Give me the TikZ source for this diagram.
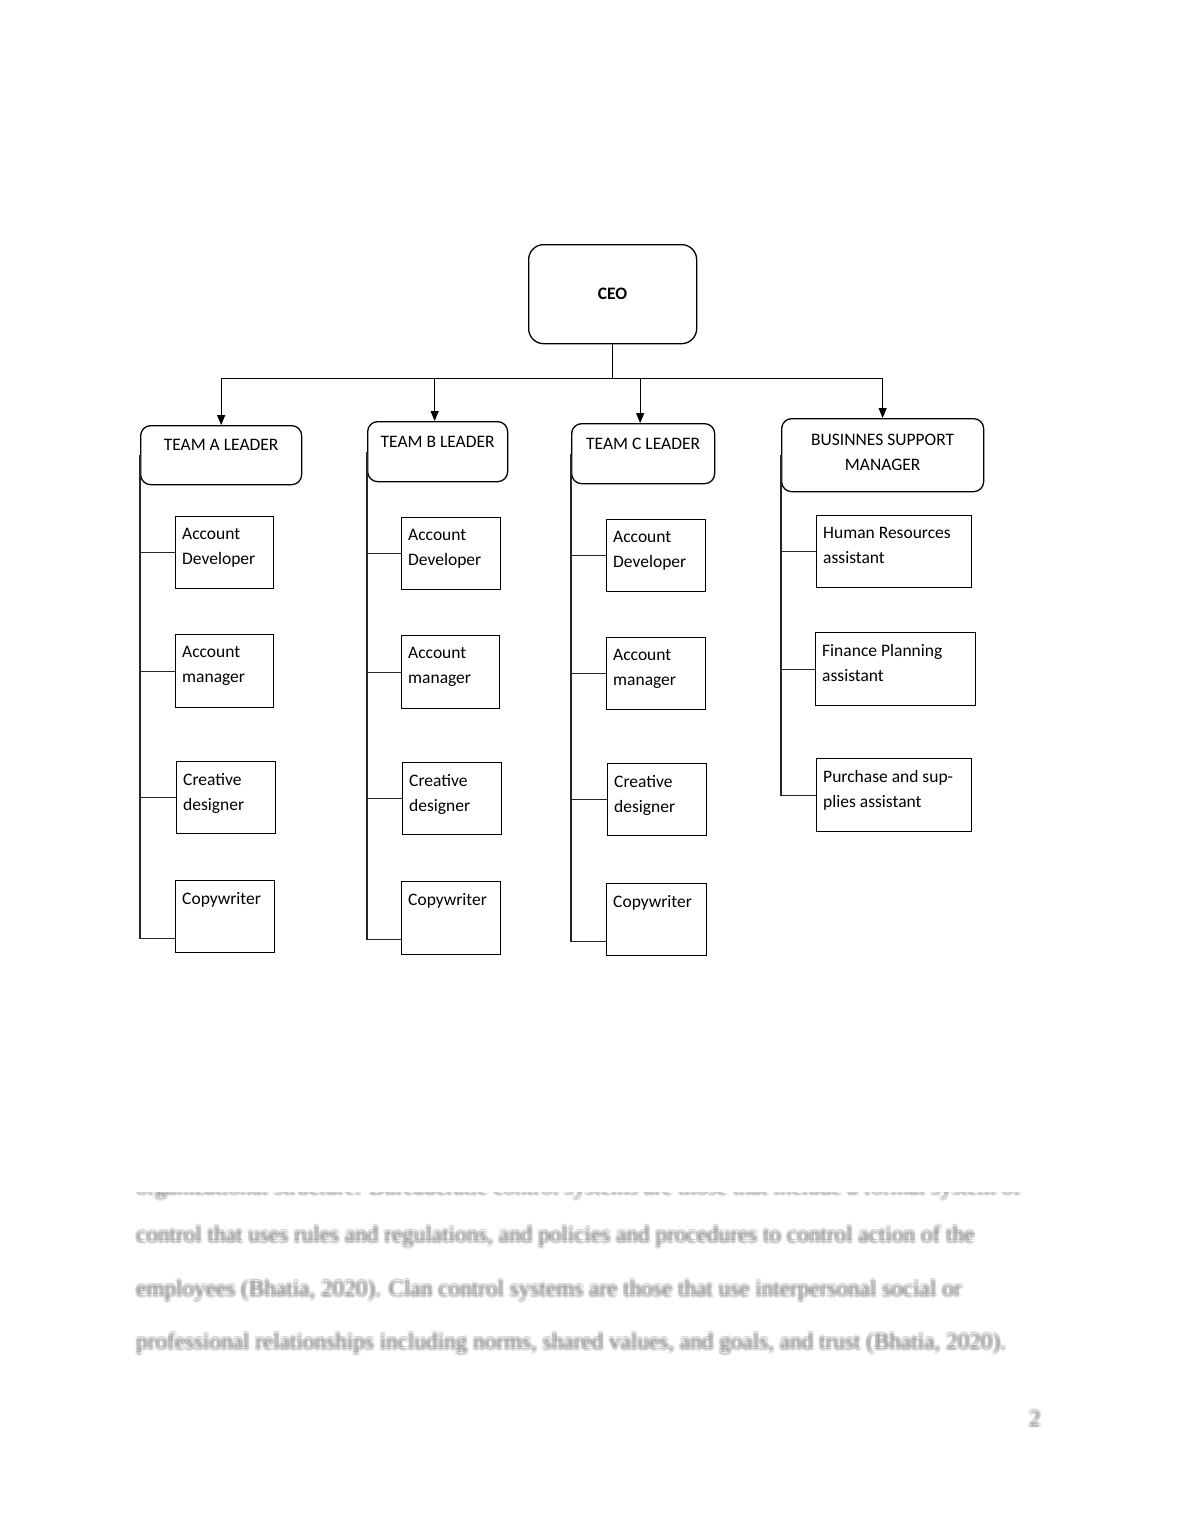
\documentclass[tikz,border=0pt]{standalone}
\usepackage{fontspec}
\setmainfont{Carlito}
\newfontfamily\parafont{Liberation Serif}
\usetikzlibrary{arrows.meta,calc}

\tikzset{
  boxbase/.style={draw, line width=1.3, inner sep=0, anchor=north west, fill=white},
  leadbox/.style={boxbase, rounded corners=10},
  lbl/.style={font=\fontsize{17.5}{24.7}\selectfont, align=left, inner sep=0, anchor=north west},
  conn/.style={line width=1.2, black!85},
  arr/.style={line width=1.2, -{Triangle[length=10,width=8]}},
  para/.style={font=\parafont\fontsize{23.2}{26}\selectfont, inner sep=0, anchor=base west, text=black!80, opacity=0.1}
}

% name, x1, y1, x2, y2, text
\newcommand\rolebox[6]{%
  \node[boxbase, minimum width={#4-#2}, minimum height={#5-#3}] (#1) at (#2,#3) {};
  \node[lbl] (#1t) at ($(#1.north west)+(7,12)$) {#6};
}
% name, x, y(baseline), text  (soft, faded copy of the page text)
\newcommand\blurline[4]{%
  \foreach \dx/\dy [count=\i] in {0/0,-2/0,2/0,0/-2,0/2,-1.4/-1.4,1.4/1.4,-1.4/1.4,1.4/-1.4}
    \node[para] (#1\i) at (#2+\dx,#3+\dy) {#4};
}

\begin{document}
\begin{tikzpicture}[x=1pt,y=-1pt]
\fill[white] (0,0) rectangle (1180,1527);
\useasboundingbox (0,0) rectangle (1180,1527);

% CEO
\node[leadbox, rounded corners=15, minimum width=168, minimum height=99,
      font=\fontsize{17.5}{20}\selectfont\bfseries] (CEO) at (528,244) {CEO};

% leaders
\node[leadbox, minimum width=161, minimum height=59] (TA) at (140,425) {};
\node[leadbox, minimum width=140, minimum height=60] (TB) at (367,421) {};
\node[leadbox, minimum width=143, minimum height=60] (TC) at (571,423) {};
\node[leadbox, minimum width=202, minimum height=73] (BS) at (781,418) {};
\node[lbl, anchor=north] (TAt) at ($(TA.north)+(0,14)$) {TEAM A LEADER};
\node[lbl, anchor=north] (TBt) at ($(TB.north)+(0,15)$) {TEAM B LEADER};
\node[lbl, anchor=north] (TCt) at ($(TC.north)+(0,15)$) {TEAM C LEADER};
\node[lbl, anchor=north, align=center] (BSt) at ($(BS.north)+(0,16)$) {BUSINNES SUPPORT\\MANAGER};

% CEO to leaders
\coordinate (busC) at ($(CEO.south)+(0,34)$);
\draw[line width=1.2] (CEO.south) -- (busC);
\draw[line width=1.2] (TA.north |- busC) -- (BS.north |- busC);
\draw[arr] (TA.north |- busC) -- (TA.north);
\draw[arr] ($(TB.north |- busC)+(-3,0)$) -- ($(TB.north)+(-3,0)$);
\draw[arr] ($(TC.north |- busC)+(-3,0)$) -- ($(TC.north)+(-3,0)$);
\draw[arr] (BS.north |- busC) -- (BS.north);

% Team A
\rolebox{a1}{175}{516}{273}{588}{Account\\Developer}
\rolebox{a2}{175}{634}{273}{707}{Account\\manager}
\rolebox{a3}{176}{761}{275}{833}{Creative\\designer}
\rolebox{a4}{175}{880}{274}{952}{Copywriter}
% Team B
\rolebox{b1}{401}{517}{500}{589}{Account\\Developer}
\rolebox{b2}{401}{635}{499}{708}{Account\\manager}
\rolebox{b3}{402}{762}{501}{834}{Creative\\designer}
\rolebox{b4}{401}{881}{500}{954}{Copywriter}
% Team C
\rolebox{c1}{606}{519}{705}{591}{Account\\Developer}
\rolebox{c2}{606}{637}{705}{709}{Account\\manager}
\rolebox{c3}{607}{763}{706}{835}{Creative\\designer}
\rolebox{c4}{606}{883}{706}{955}{Copywriter}
% Business support
\rolebox{s1}{816}{515}{971}{587}{Human Resources\\assistant}
\rolebox{s2}{815}{632}{975}{705}{Finance Planning\\assistant}
\rolebox{s3}{816}{758}{971}{831}{Purchase and sup-\\plies assistant}

% connectors
\coordinate (a4c) at ($(a4.south west)+(0,-15)$);
\coordinate (b4c) at ($(b4.south west)+(0,-16)$);
\coordinate (c4c) at ($(c4.south west)+(0,-15)$);
\draw[conn] (TA.west) -- (TA.west |- a4c) -- (a4c);
\draw[conn] (TB.west) -- (TB.west |- b4c) -- (b4c);
\draw[conn] (TC.west) -- (TC.west |- c4c) -- (c4c);
\draw[conn] (BS.west) -- (BS.west |- s3.west) -- (s3.west);
\foreach \n in {a1,a2,a3} \draw[conn] (TA.west |- \n.west) -- (\n.west);
\foreach \n in {b1,b2,b3} \draw[conn] (TB.west |- \n.west) -- (\n.west);
\foreach \n in {c1,c2,c3} \draw[conn] (TC.west |- \n.west) -- (\n.west);
\foreach \n in {s1,s2} \draw[conn] (BS.west |- \n.west) -- (\n.west);

% blurred body text
\begin{scope}
\clip (100,1192) rectangle (1100,1215);
\blurline{pA}{136}{1194}{organizational structure. Bureaucratic control systems are those that include a formal system of}
\end{scope}
\blurline{pB}{136}{1242}{control that uses rules and regulations, and policies and procedures to control action of the}
\blurline{pC}{136}{1296}{employees (Bhatia, 2020). Clan control systems are those that use interpersonal social or}
\blurline{pD}{136}{1349}{professional relationships including norms, shared values, and goals, and trust (Bhatia, 2020).}
\blurline{pg}{1029}{1426}{2}
\end{tikzpicture}
\end{document}
